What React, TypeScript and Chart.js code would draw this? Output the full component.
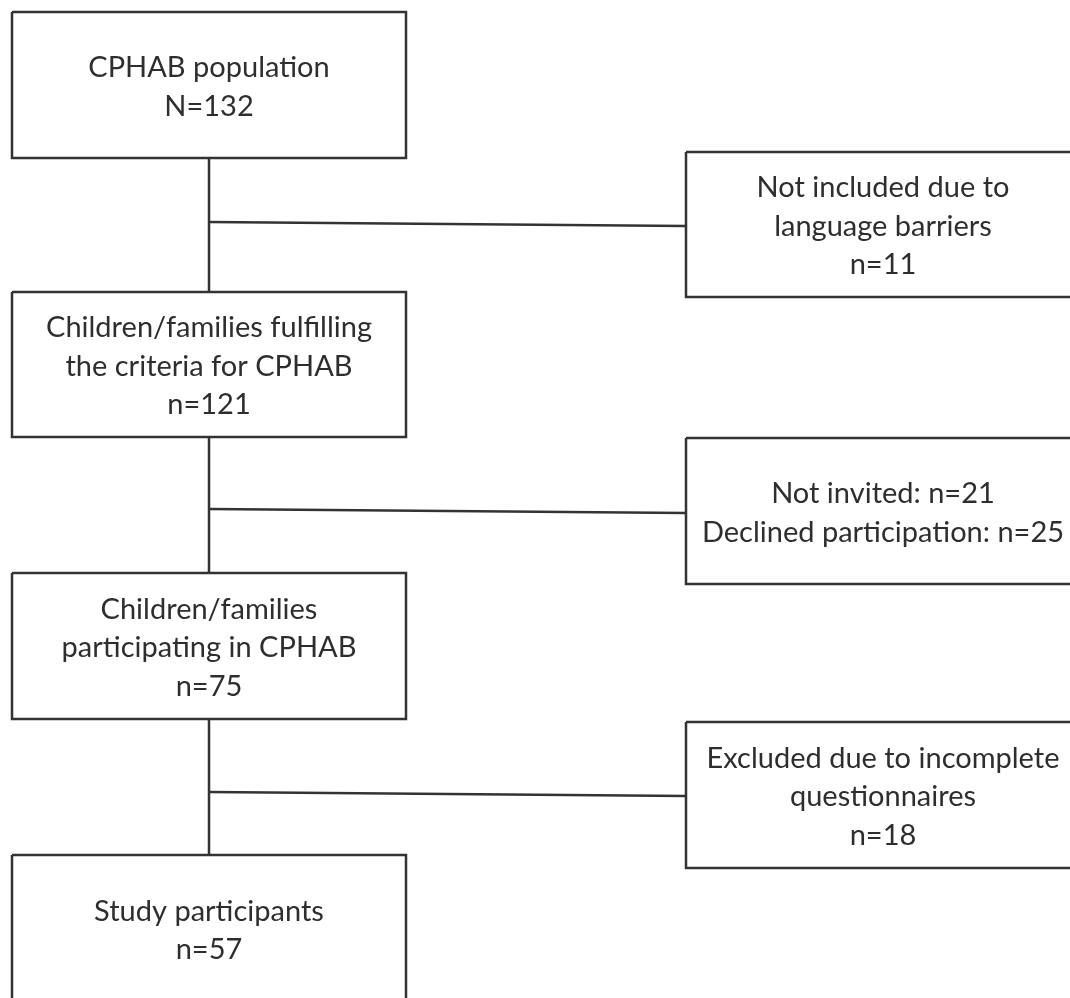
import React, { useEffect, useRef } from "react";
import { Chart, registerables } from "chart.js";

Chart.register(...registerables);

// Flowchart boxes (layout units map 1:1 to the hidden linear scales)
const boxLabels: string[][] = [
  ["CPHAB population", "N=132"],
  ["Not included due to", "language barriers", "n=11"],
  ["Children/families fulfilling", "the criteria for CPHAB", "n=121"],
  ["Not invited: n=21", "Declined participation: n=25"],
  ["Children/families", "participating in CPHAB", "n=75"],
  ["Excluded due to incomplete", "questionnaires", "n=18"],
  ["Study participants", "n=57"],
];
const boxLeft = [12, 686, 12, 686, 12, 686, 12];
const boxRight = [406, 1082, 406, 1082, 406, 1082, 406];
const boxTop = [12, 152, 292, 438, 573, 722, 855];
const boxBottom = [158, 297, 437, 584, 719, 868, 1002];
const textCenterX = [209, 883, 209, 883, 209, 883, 209];

// Main vertical flow line x position and branch connectors
const flowX = 209;
const branchYLeft = [222, 509, 792];
const branchYRight = [226, 513, 796];
const branchTarget = [1, 3, 5];

const LINE_COLOR = "#333333";
const TEXT_COLOR = "#2e2e2e";
const FONT = "Lato, 'Noto Sans', sans-serif";
const FONT_SIZE = 29;
const LINE_H = 38.5;

export default function App() {
  const ref = useRef<HTMLCanvasElement | null>(null);

  useEffect(() => {
    document.body.style.margin = "0";
    const canvas = ref.current;
    if (!canvas) return;

    const datasets: any[] = [];
    boxLabels.forEach((_, i) => {
      datasets.push({
        data: [
          { x: boxLeft[i], y: boxTop[i] },
          { x: boxRight[i], y: boxTop[i] },
          { x: boxRight[i], y: boxBottom[i] },
          { x: boxLeft[i], y: boxBottom[i] },
          { x: boxLeft[i], y: boxTop[i] },
        ],
      });
    });
    for (let i = 0; i < 3; i++) {
      const from = i * 2;
      const to = i * 2 + 2;
      datasets.push({
        data: [
          { x: flowX, y: boxBottom[from] },
          { x: flowX, y: boxTop[to] },
        ],
      });
      datasets.push({
        data: [
          { x: flowX, y: branchYLeft[i] },
          { x: boxLeft[branchTarget[i]], y: branchYRight[i] },
        ],
      });
    }
    datasets.forEach((d) => {
      d.showLine = true;
      d.borderColor = LINE_COLOR;
      d.borderWidth = 2.5;
      d.pointRadius = 0;
      d.tension = 0;
      d.fill = false;
      d.borderJoinStyle = "miter";
    });

    const textPlugin = {
      id: "boxText",
      afterDatasetsDraw(chart: any) {
        const { ctx, scales } = chart;
        ctx.save();
        ctx.fillStyle = TEXT_COLOR;
        ctx.font = `${FONT_SIZE}px ${FONT}`;
        ctx.textAlign = "center";
        ctx.textBaseline = "middle";
        boxLabels.forEach((lines, i) => {
          const cx = scales.x.getPixelForValue(textCenterX[i]);
          const cy = scales.y.getPixelForValue((boxTop[i] + boxBottom[i]) / 2);
          const n = lines.length;
          lines.forEach((t, j) => {
            const y = cy + (j - (n - 1) / 2) * LINE_H + 2;
            ctx.fillText(t, cx, y);
          });
        });
        ctx.restore();
      },
    };

    const chart = new Chart(canvas, {
      type: "scatter",
      data: { datasets },
      options: {
        animation: false,
        responsive: false,
        maintainAspectRatio: false,
        layout: { padding: 0 },
        plugins: { legend: { display: false }, tooltip: { enabled: false } },
        scales: {
          x: { type: "linear", min: 0, max: 1070, display: false },
          y: { type: "linear", min: 0, max: 998, reverse: true, display: false },
        },
      },
      plugins: [textPlugin],
    });
    return () => chart.destroy();
  }, []);

  return (
    <div style={{ width: 1070, height: 998, background: "#fff" }}>
      <canvas ref={ref} width={1070} height={998} style={{ display: "block" }} />
    </div>
  );
}
